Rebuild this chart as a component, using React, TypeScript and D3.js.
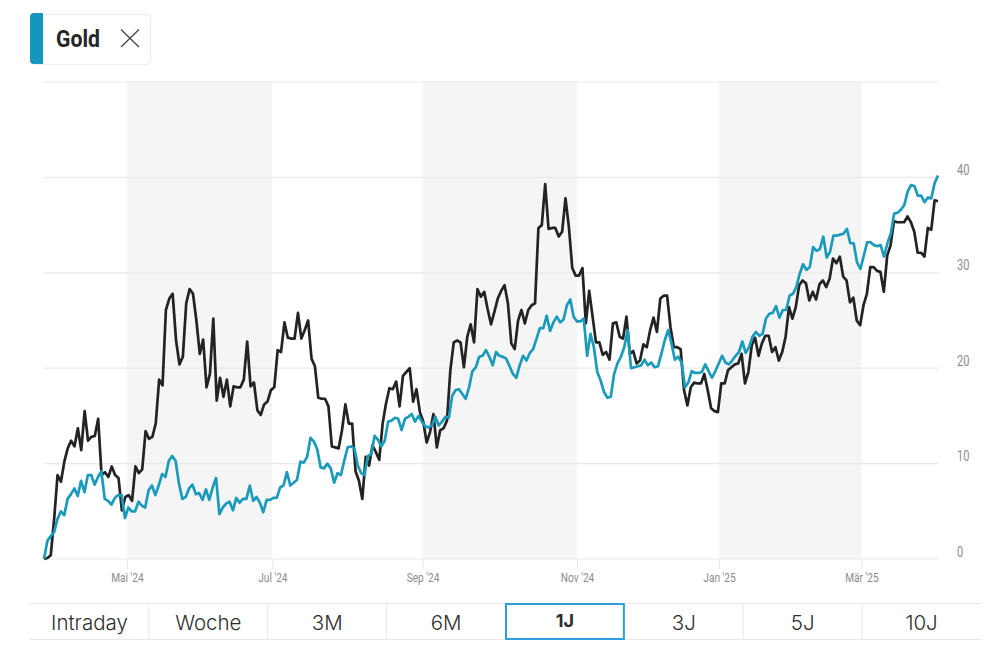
// @ts-nocheck
import { useRef, useEffect } from "react";
import * as d3 from "d3";

const goldValues = [
  0, 1.9, 2.4, 2.8, 4.2, 5.0, 4.6, 6.3, 6.8, 7.4, 6.6, 8.2, 7.0, 8.8, 8.8, 7.8, 8.6, 9.2, 6.3, 6.1,
  5.7, 6.4, 6.7, 6.7, 4.3, 5.4, 5.0, 5.0, 6.0, 5.6, 5.4, 7.2, 7.7, 6.7, 7.7, 8.9, 8.6, 10.3, 10.8, 10.3,
  7.9, 6.3, 6.5, 7.4, 7.8, 6.8, 6.9, 6.2, 7.3, 6.2, 7.5, 8.5, 4.7, 5.4, 5.8, 6.0, 5.1, 6.4, 5.9, 6.3,
  6.3, 7.7, 6.1, 6.5, 5.9, 4.9, 6.2, 6.2, 6.4, 6.4, 7.5,
  7.7, 9.1, 7.7, 8.0, 8.3, 10.2, 10.1, 10.7, 12.7, 12.3, 11.5, 9.6, 9.5, 10.0, 9.5, 8.0, 9.0, 8.8, 10.3,
  11.7, 11.8, 11.6, 9.8, 9.0, 8.8, 10.8, 11.0, 12.9, 12.5, 11.8, 12.4, 14.4, 14.5, 14.8, 14.7, 13.5, 14.7, 14.9, 15.2,
  14.4, 15.0, 14.4, 13.9, 13.8, 14.0, 14.9, 14.0, 14.4, 14.9, 14.8, 17.1, 17.7, 17.8, 17.3, 16.8, 18.0, 19.7, 20.1, 21.2,
  21.3, 21.9, 21.2, 20.3, 21.7, 21.3, 21.2, 21.0, 20.2, 19.4, 19.0, 20.3,
  21.3, 20.8, 21.6, 22.0, 23.1, 24.2, 24.2, 25.5, 23.9, 24.8, 25.4, 24.8, 25.1, 26.6, 27.2, 25.4, 24.9, 24.9, 25.2, 21.3,
  23.6, 22.2, 19.6, 18.7, 17.5, 16.9, 17.0, 19.4, 20.5, 21.2, 22.2, 24.0, 20.0, 20.1, 20.2, 20.3, 20.9, 20.3, 20.6, 20.1,
  20.2, 21.5, 22.9, 24.0, 22.6, 20.9, 21.2, 20.6, 18.0, 18.5, 19.7, 19.5, 19.5, 19.6, 20.4, 19.7, 19.0, 19.7, 20.5, 21.3,
  20.6, 20.4, 20.8, 21.3, 21.7, 22.8, 21.6, 22.2,
  23.3, 23.8, 23.4, 23.6, 25.2, 25.7, 25.8, 26.5, 25.3, 26.1, 26.1, 27.6, 27.8, 28.5, 29.9, 30.9, 30.3, 30.6, 32.7, 32.3,
  32.5, 33.8, 31.6, 32.2, 33.9, 33.9, 34.0, 34.1, 34.6, 33.1, 33.1, 31.1, 30.4, 31.8, 33.2, 33.2, 32.9, 32.8, 32.9, 31.7,
  33.1, 34.1, 36.2, 36.3, 36.6, 37.1, 38.5, 39.2, 39.1, 38.1, 38.1, 37.4, 37.9, 37.8, 39.4, 40.2,
];

const compareValues = [
  0, 0.1, 0.4, 4.2, 8.8, 8.1, 10.2, 11.6, 12.4, 11.8, 13.7, 11.4, 15.5, 12.4, 12.8, 12.9, 14.7, 8.8, 9.1, 8.6,
  9.7, 8.8, 8.5, 5.1, 6.5, 6.7, 6.1, 9.7, 9.0, 9.4, 13.4, 12.6, 12.8, 14.2, 18.8, 18.2, 26.1, 27.3, 27.8, 22.9,
  20.4, 21.2, 26.8, 28.3, 27.8, 25.0, 21.5, 23.0, 18.0, 19.4, 25.2, 16.6, 19.0, 17.0, 18.8, 16.0, 18.1, 18.0, 18.0, 18.8,
  22.8, 18.1, 18.5, 15.6, 15.1, 16.2, 16.5, 17.7, 18.0, 21.9,
  21.7, 24.8, 23.2, 23.1, 23.1, 25.8, 23.1, 24.0, 25.0, 21.0, 20.2, 16.9, 16.8, 16.8, 16.0, 11.8, 11.7, 11.6, 13.5, 16.2,
  14.2, 14.2, 9.2, 8.2, 6.3, 10.7, 9.8, 11.9, 11.2, 10.4, 14.2, 16.3, 17.9, 17.8, 18.6, 16.0, 19.2, 19.6, 20.0, 16.5,
  17.8, 15.4, 14.4, 12.2, 13.3, 15.2, 11.7, 13.5, 13.7, 14.5, 19.8, 22.7, 22.9, 22.7, 20.1, 23.3, 24.6, 22.7, 28.3, 27.5,
  28.0, 26.2, 24.6, 25.9, 27.3, 28.1, 28.7, 26.8, 22.6, 22.0, 25.0,
  26.1, 24.7, 26.1, 26.6, 26.8, 34.7, 35.0, 39.3, 34.6, 34.7, 34.7, 33.8, 34.3, 37.8, 34.8, 30.5, 29.7, 29.7, 30.5, 24.7,
  28.1, 25.4, 22.7, 22.7, 21.4, 21.7, 20.9, 24.7, 24.8, 23.3, 23.1, 25.4, 21.5, 21.8, 20.5, 20.8, 22.5, 22.2, 24.0, 25.3,
  23.8, 27.3, 27.6, 27.6, 24.3, 22.2, 22.2, 22.0, 17.7, 16.1, 18.0, 18.5, 18.4, 18.4, 19.4, 17.7, 15.8, 15.5, 15.4, 18.4,
  18.4, 19.8, 20.1, 20.4, 20.5, 21.5, 18.4, 19.6,
  22.4, 23.2, 21.3, 22.6, 23.4, 23.4, 21.7, 22.2, 20.8, 21.7, 23.3, 26.4, 25.2, 26.4, 28.7, 29.2, 28.9, 27.1, 28.0, 27.2,
  28.8, 29.2, 28.5, 29.4, 31.5, 31.0, 31.7, 29.6, 29.2, 26.9, 27.4, 25.0, 24.5, 26.6, 27.8, 30.6, 30.6, 30.2, 30.1, 28.0,
  31.8, 32.9, 35.4, 35.3, 35.3, 35.3, 35.9, 35.3, 34.3, 32.1, 32.1, 31.7, 34.7, 34.5, 37.6, 37.5,
];

// month starts, as position in the list of trading days
const monthLabels = ["Mai '24", "Jul '24", "Sep '24", "Nov '24", "Jan '25", "Mär '25"];
const monthDays = [24.6, 67.7, 112.2, 158.0, 200.1, 242.3];
const yTicks = [0, 10, 20, 30, 40, 50];
const yLabelled = [0, 10, 20, 30, 40];
const rangeLabels = ["Intraday", "Woche", "3M", "6M", "1J", "3J", "5J", "10J"];
const activeRange = "1J";

const TEAL = "#1b9bbb";
const DARK = "#232323";
const GRID = "#e9e9e9";
const LABEL_FONT = "Roboto, sans-serif";

// the site's label font is condensed, none is installed so squeeze Roboto
function squeeze(sel, factor) {
  sel.each(function () {
    d3.select(this)
      .attr("textLength", this.getComputedTextLength() * factor)
      .attr("lengthAdjust", "spacingAndGlyphs");
  });
}

export default function App() {
  const ref = useRef(null);

  useEffect(() => {
    const svg = d3.select(ref.current);
    svg.selectAll("*").remove(); // Clear previous chart

    const n = goldValues.length;
    const x = d3.scaleLinear().domain([0, n - 1]).range([44, 938]);
    const y = d3.scaleLinear().domain([0, 50]).range([559, 82]);

    // grey bands for every second pair of months
    svg
      .append("g")
      .selectAll("rect")
      .data([0, 2, 4])
      .join("rect")
      .attr("x", (i) => x(monthDays[i]))
      .attr("width", (i) => x(monthDays[i + 1]) - x(monthDays[i]))
      .attr("y", y(50))
      .attr("height", y(0) - y(50))
      .attr("fill", "#f5f5f6");

    svg
      .append("g")
      .selectAll("line")
      .data(yTicks)
      .join("line")
      .attr("x1", 44)
      .attr("x2", 938)
      .attr("y1", (d) => y(d))
      .attr("y2", (d) => y(d))
      .attr("stroke", GRID)
      .attr("stroke-width", 1.2);

    // x axis
    const xAxis = svg
      .append("g")
      .attr("transform", `translate(0,${y(0)})`)
      .call(
        d3
          .axisBottom(x)
          .tickValues(monthDays)
          .tickSize(10)
          .tickPadding(3)
          .tickFormat((d, i) => monthLabels[i])
      );
    xAxis.select(".domain").remove();
    xAxis.selectAll("line").attr("stroke", GRID).attr("stroke-width", 1.2);
    xAxis
      .selectAll("text")
      .attr("fill", "#8b8b8b")
      .attr("font-family", LABEL_FONT)
      .attr("font-size", 13)
      .attr("y", 14)
      .call(squeeze, 0.78);

    // y axis labels sit above their grid lines
    const yAxis = svg
      .append("g")
      .attr("transform", "translate(950,-7.5)")
      .call(d3.axisRight(y).tickValues(yLabelled).tickSize(0).tickPadding(7));
    yAxis.select(".domain").remove();
    yAxis
      .selectAll("text")
      .attr("fill", "#8b8b8b")
      .attr("font-family", LABEL_FONT)
      .attr("font-size", 14.5)
      .call(squeeze, 0.76);

    const line = d3
      .line()
      .x((d, i) => x(i))
      .y((d) => y(d));

    [
      { values: compareValues, color: DARK },
      { values: goldValues, color: TEAL },
    ].forEach((s) => {
      const sx = d3.scaleLinear().domain([0, s.values.length - 1]).range([44, 938]);
      svg
        .append("path")
        .datum(s.values)
        .attr("fill", "none")
        .attr("stroke", s.color)
        .attr("stroke-width", 2.7)
        .attr("stroke-linejoin", "round")
        .attr("d", line.x((d, i) => sx(i)));
    });

    // legend chip
    const legend = svg.append("g");
    legend
      .append("rect")
      .attr("x", 30.5)
      .attr("y", 14.5)
      .attr("width", 120)
      .attr("height", 50)
      .attr("rx", 4)
      .attr("fill", "#fff")
      .attr("stroke", "#ececec");
    legend
      .append("path")
      .attr("d", "M43,13H34a4,4 0 0 0 -4,4V60a4,4 0 0 0 4,4H43Z")
      .attr("fill", "#1597bb");
    legend
      .append("text")
      .attr("x", 56)
      .attr("y", 47)
      .attr("font-family", "Roboto, sans-serif")
      .attr("font-weight", 700)
      .attr("font-size", 24)
      .attr("fill", "#262626")
      .attr("textLength", 44)
      .attr("lengthAdjust", "spacingAndGlyphs")
      .text("Gold");
    legend
      .append("path")
      .attr("d", "M121,29.5L139,47M139,29.5L121,47")
      .attr("stroke", "#444")
      .attr("stroke-width", 1.3)
      .attr("fill", "none");

    // range buttons
    const band = d3.scaleBand().domain(rangeLabels).range([30, 981]);
    const bar = svg.append("g");
    bar
      .selectAll("line.edge")
      .data([603.5, 639.5])
      .join("line")
      .attr("class", "edge")
      .attr("x1", 30)
      .attr("x2", 981)
      .attr("y1", (d) => d)
      .attr("y2", (d) => d)
      .attr("stroke", GRID);
    bar
      .selectAll("line.sep")
      .data(rangeLabels.slice(1))
      .join("line")
      .attr("class", "sep")
      .attr("x1", (d) => band(d))
      .attr("x2", (d) => band(d))
      .attr("y1", 603.5)
      .attr("y2", 639.5)
      .attr("stroke", GRID);
    bar
      .append("rect")
      .attr("x", band(activeRange) + 0.5)
      .attr("y", 604)
      .attr("width", band.bandwidth() - 1)
      .attr("height", 35)
      .attr("fill", "#fff")
      .attr("stroke", "#2f9fdc")
      .attr("stroke-width", 2);
    bar
      .selectAll("text")
      .data(rangeLabels)
      .join("text")
      .attr("x", (d) => band(d) + band.bandwidth() / 2)
      .attr("y", (d) => (d === activeRange ? 626.5 : 630))
      .attr("text-anchor", "middle")
      .attr("font-family", "Inter, Roboto, sans-serif")
      .attr("font-weight", (d) => (d === activeRange ? 700 : 300))
      .attr("font-size", (d) => (d === activeRange ? 18 : 20.5))
      .attr("fill", "#2e2e2e")
      .text((d) => d);
  }, []);

  return (
    <svg
      ref={ref}
      width={1000}
      height={664}
      style={{ position: "absolute", left: 0, top: 0, background: "#fff" }}
    ></svg>
  );
}
